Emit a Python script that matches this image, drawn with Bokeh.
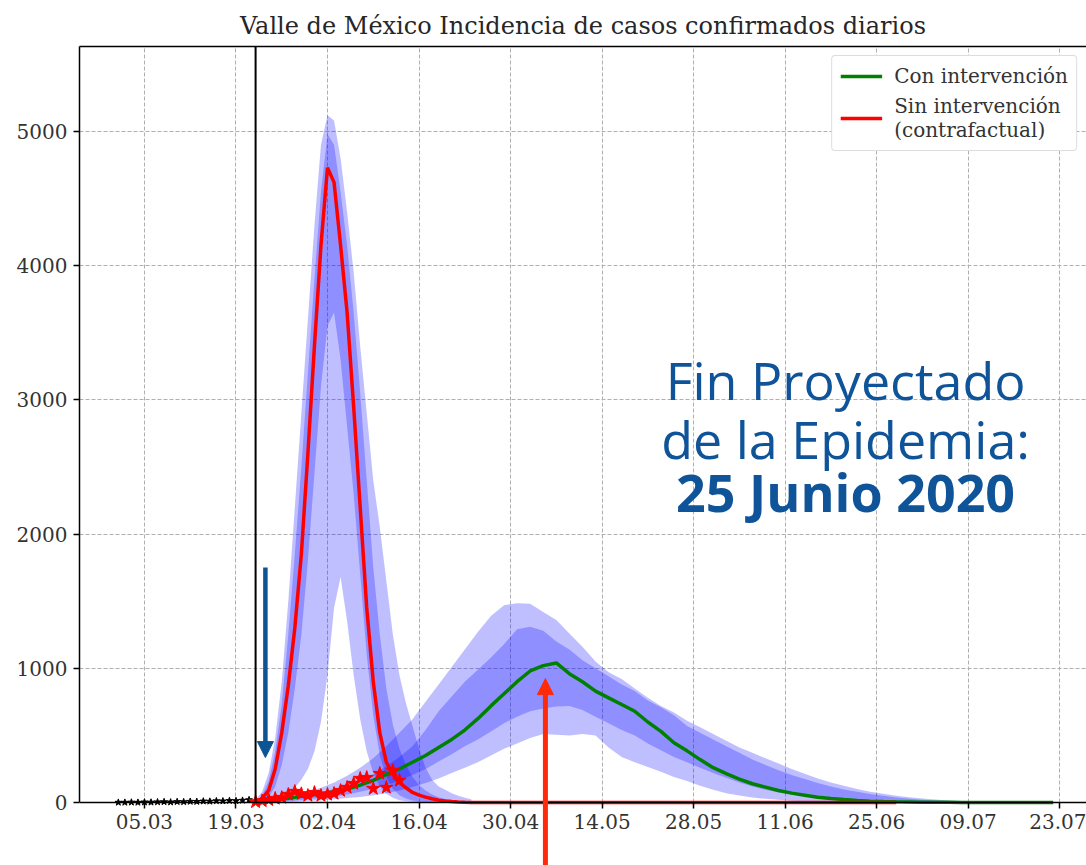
import pandas as pd
from bokeh.plotting import figure
from bokeh.models import (Range1d, Arrow, NormalHead, Label, FixedTicker,
                          DatetimeTickFormatter, Legend, LegendItem, DatetimeAxis)
from bokeh.embed import file_html
from bokeh.resources import INLINE

TITLE = "Valle de México Incidencia de casos confirmados diarios"
X_TICKS = ["2020-03-05", "2020-03-19", "2020-04-02", "2020-04-16", "2020-04-30",
           "2020-05-14", "2020-05-28", "2020-06-11", "2020-06-25", "2020-07-09", "2020-07-23"]
Y_TICKS = [0, 1000, 2000, 3000, 4000, 5000]
X_START = "2020-02-24 01:30"
X_END = "2020-07-27 02:30"
Y_MAX = 5632
Y_MIN = -469          # room below the axis for the pointer arrow
INTERVENTION_DATE = "2020-03-22"

# observed daily cases before the intervention (black), from 01.03
obs_pre_start = "2020-03-01"
obs_pre = [1, 1, 2, 1, 3, 2, 4, 5, 3, 6, 5, 8, 7, 10, 9, 12, 11, 14, 13, 16, 20]
# observed daily cases after the intervention (red stars), from 22.03
obs_post_start = "2020-03-22"
obs_post = [5, 12, 20, 30, 37, 60, 82, 65, 52, 74, 52, 60, 67, 89, 112, 141,
            179, 186, 104, 216, 112, 238, 164]

# "Sin intervención" scenario, daily from 22.03; median line ends at 28.06
red_start = "2020-03-22"
red_end = "2020-06-28"
red_mid = [5, 30, 90, 250, 520, 870, 1300, 1850, 2600, 3400,
           4150, 4730, 4620, 4150, 3650, 2950, 2200, 1450, 900, 520,
           300, 210, 150, 110, 75, 55, 40, 28, 18, 12,
           7, 4, 2, 1]
red_hi_out = [20, 80, 220, 480, 900, 1500, 2200, 2900, 3600, 4300,
              4900, 5120, 5080, 4800, 4400, 3950, 3400, 2900, 2400, 2050,
              1650, 1250, 950, 740, 570, 400, 260, 170, 120, 95,
              70, 50, 35, 25]
red_hi_in = [10, 50, 160, 380, 730, 1250, 1850, 2500, 3200, 3900,
             4550, 4980, 4900, 4550, 4150, 3650, 3050, 2400, 1750, 1250,
             850, 580, 400, 280, 190, 130, 90, 60, 40, 26,
             17, 11, 7, 4]
red_lo_in = [0, 10, 40, 120, 280, 520, 850, 1250, 1800, 2450,
             3100, 3550, 3650, 3300, 2800, 2300, 1700, 1100, 650, 350,
             190, 100, 55, 30, 16, 8, 4, 2, 0, 0,
             0, 0, 0, 0]
red_lo_out = [0, 2, 8, 20, 40, 70, 110, 170, 250, 380,
              600, 950, 1450, 1680, 1350, 950, 620, 380, 220, 120,
              65, 35, 18, 9, 4, 2, 0, 0, 0, 0,
              0, 0, 0, 0]

# "Con intervención" scenario, every 2 days from 22.03
green_start = "2020-03-22"
green_mid = [2, 10, 25, 40, 55, 65, 80, 100, 130, 165,
             210, 250, 300, 350, 410, 470, 540, 625, 720, 810,
             900, 980, 1020, 1040, 960, 900, 830, 780, 730, 680,
             600, 530, 445, 385, 320, 260, 215, 175, 140, 115,
             90, 70, 55, 40, 30, 22, 15, 10, 7, 5,
             4, 3, 2, 2, 1, 1, 1, 0, 0, 0,
             0, 0]
green_hi_out = [5, 20, 40, 60, 80, 110, 150, 200, 260, 330,
                420, 520, 620, 750, 880, 1010, 1140, 1270, 1390, 1470,
                1485, 1480, 1420, 1360, 1260, 1160, 1050, 970, 920, 850,
                780, 720, 670, 610, 560, 510, 460, 410, 370, 330,
                290, 250, 215, 180, 150, 125, 100, 80, 65, 50,
                40, 30, 22, 16, 11, 8, 5, 3, 2, 1,
                0, 0]
green_hi_in = [3, 12, 28, 45, 60, 80, 100, 130, 165, 210,
               270, 340, 420, 540, 680, 790, 900, 990, 1080, 1180,
               1290, 1310, 1280, 1200, 1140, 1060, 1000, 940, 880, 830,
               760, 710, 650, 570, 520, 470, 420, 370, 320, 280,
               240, 205, 175, 145, 120, 98, 80, 64, 50, 38,
               29, 21, 15, 11, 7, 5, 3, 2, 1, 0,
               0, 0]
green_lo_in = [0, 3, 8, 15, 25, 35, 45, 60, 80, 100,
               130, 165, 205, 250, 305, 360, 420, 470, 530, 590,
               640, 680, 700, 715, 720, 690, 640, 590, 540, 500,
               440, 390, 340, 300, 260, 220, 185, 150, 120, 95,
               75, 60, 46, 35, 26, 19, 14, 10, 7, 5,
               3, 2, 1, 0, 0, 0, 0, 0, 0, 0,
               0, 0]
green_lo_out = [0, 1, 4, 8, 13, 18, 25, 33, 42, 55,
                70, 90, 115, 145, 180, 220, 260, 300, 350, 400,
                440, 480, 510, 505, 500, 510, 500, 410, 340, 300,
                265, 230, 190, 160, 125, 95, 70, 52, 38, 28,
                20, 14, 10, 7, 5, 3, 2, 1, 0, 0,
                0, 0, 0, 0, 0, 0, 0, 0, 0, 0,
                0, 0]

ANNOT_LINES = ["Fin Proyectado", "de la Epidemia:", "25 Junio 2020"]
ANNOT_X = "2020-06-20 06:00"
ANNOT_Y = [3155, 2709, 2314]

BLUE_ARROW_X = "2020-03-23 12:00"
BLUE_ARROW_Y = (1750, 335)
RED_ARROW_X = "2020-05-05 08:00"
RED_ARROW_Y = (-520, 923)


def ms(s):
    return pd.Timestamp(s).value / 1e6


obs_pre_x = pd.date_range(obs_pre_start, periods=len(obs_pre), freq="D")
obs_post_x = pd.date_range(obs_post_start, periods=len(obs_post), freq="D")
red_x = pd.date_range(red_start, periods=len(red_mid), freq="D")
red_line_x = list(red_x) + [pd.Timestamp(red_end)]
red_line_y = red_mid + [0]
green_x = pd.date_range(green_start, periods=len(green_mid), freq="2D")

FONT = "DejaVu Serif"
BAND = "blue"
BAND_ALPHA = 0.25

p = figure(width=1086, height=865, x_axis_type="datetime", x_axis_location=None,
           output_backend="svg", toolbar_location=None,
           x_range=Range1d(pd.Timestamp(X_START), pd.Timestamp(X_END)),
           y_range=Range1d(Y_MIN, Y_MAX),
           min_border_left=79, min_border_right=0, min_border_top=46, min_border_bottom=0)

p.title.text = TITLE
p.title.text_font = FONT
p.title.text_font_size = "24px"
p.title.text_font_style = "normal"
p.title.text_color = "#262626"
p.title.align = "center"
p.title.standoff = 14

p.background_fill_color = "white"
p.border_fill_color = "white"
p.outline_line_color = None

xfmt = DatetimeTickFormatter(days="%d.%m", months="%d.%m", years="%d.%m",
                             hours="%d.%m", hourmin="%d.%m")
xticker = FixedTicker(ticks=[ms(t) for t in X_TICKS])

# bottom axis sits on y = 0; space below it is kept for the arrow
xaxis = DatetimeAxis(ticker=xticker, formatter=xfmt, fixed_location=0)
p.add_layout(xaxis, "below")
# top spine (no ticks, no labels)
top = DatetimeAxis(ticker=FixedTicker(ticks=[]), formatter=xfmt,
                   major_tick_line_color=None, minor_tick_line_color=None,
                   major_label_standoff=0, major_tick_out=0,
                   axis_line_width=1.5, axis_line_color="black")
p.add_layout(top, "above")

p.yaxis.ticker = FixedTicker(ticks=Y_TICKS)
p.yaxis.bounds = (0, Y_MAX)
for ax in (xaxis, p.yaxis[0]):
    ax.major_label_text_font = FONT
    ax.major_label_text_font_size = "20px"
    ax.major_label_text_color = "#333333"
    ax.axis_line_color = "black"
    ax.axis_line_width = 1.5
    ax.major_tick_line_color = "black"
    ax.major_tick_line_width = 1.5
    ax.major_tick_out = 6
    ax.major_tick_in = 0
    ax.minor_tick_line_color = None
    ax.major_label_standoff = 6
xaxis.major_label_standoff = 5

p.xgrid.ticker = xticker
p.ygrid.ticker = p.yaxis.ticker
for g in (p.xgrid, p.ygrid):
    g.grid_line_color = "#b0b0b0"
    g.grid_line_dash = "4 2"
    g.grid_line_width = 1
if "cross_bounds" in p.xgrid[0].properties():
    p.xgrid.cross_bounds = (0, Y_MAX)
p.ygrid.bounds = (0, Y_MAX)

# uncertainty bands
p.varea(x=red_x, y1=red_lo_out, y2=red_hi_out, fill_color=BAND, fill_alpha=BAND_ALPHA)
p.varea(x=red_x, y1=red_lo_in, y2=red_hi_in, fill_color=BAND, fill_alpha=BAND_ALPHA)
p.varea(x=green_x, y1=green_lo_out, y2=green_hi_out, fill_color=BAND, fill_alpha=BAND_ALPHA)
p.varea(x=green_x, y1=green_lo_in, y2=green_hi_in, fill_color=BAND, fill_alpha=BAND_ALPHA)

g_line = p.line(green_x, green_mid, line_color="#008000", line_width=3.5)
r_line = p.line(red_line_x, red_line_y, line_color="#ff0000", line_width=3.5)

p.scatter(obs_pre_x, obs_pre, marker="star", size=7, fill_color="black", line_color="black")
p.scatter(obs_post_x, obs_post, marker="star", size=14, fill_color="#ff0000", line_color="#ff0000")

p.segment(x0=[pd.Timestamp(INTERVENTION_DATE)], y0=[0], x1=[pd.Timestamp(INTERVENTION_DATE)],
          y1=[Y_MAX], line_color="black", line_width=2)

blue = "#0d5495"
p.add_layout(Arrow(end=NormalHead(size=16, fill_color=blue, line_color=blue),
                   x_start=ms(BLUE_ARROW_X), y_start=BLUE_ARROW_Y[0],
                   x_end=ms(BLUE_ARROW_X), y_end=BLUE_ARROW_Y[1],
                   line_color=blue, line_width=4.5))
redarrow = "#ff2a0a"
p.add_layout(Arrow(end=NormalHead(size=16, fill_color=redarrow, line_color=redarrow),
                   x_start=ms(RED_ARROW_X), y_start=RED_ARROW_Y[0],
                   x_end=ms(RED_ARROW_X), y_end=RED_ARROW_Y[1],
                   line_color=redarrow, line_width=5))

for i, (txt, yy) in enumerate(zip(ANNOT_LINES, ANNOT_Y)):
    p.add_layout(Label(x=ms(ANNOT_X), y=yy, text=txt, text_align="center",
                       text_baseline="alphabetic", text_font="Open Sans",
                       text_font_size="52px", text_color="#0f5499",
                       text_font_style="bold" if i == 2 else "normal"))

legend = Legend(items=[LegendItem(label="Con intervención", renderers=[g_line]),
                       LegendItem(label="Sin intervención\n(contrafactual)", renderers=[r_line])],
                location="top_right", margin=9, padding=8, spacing=6,
                glyph_width=42, glyph_height=20, label_standoff=12,
                label_text_font=FONT, label_text_font_size="20px", label_text_color="#333333",
                border_line_color="#bbbbbb", border_line_width=1.5,
                background_fill_color="white", background_fill_alpha=1)
if "border_radius" in legend.properties():
    legend.border_radius = 4
p.add_layout(legend)

open("out.html", "w").write(file_html(p, INLINE))
